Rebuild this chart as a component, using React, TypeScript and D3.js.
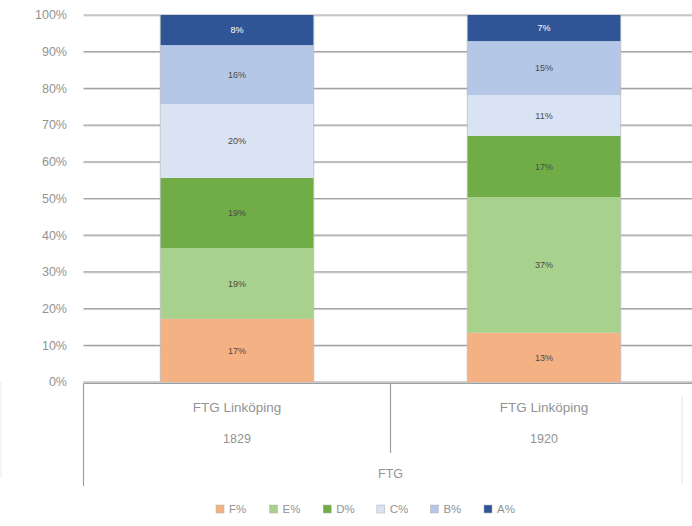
import React from "react";
import * as d3 from "d3";

const series = ["F%", "E%", "D%", "C%", "B%", "A%"];
const categories = ["1829", "1920"];
const categoryName = "FTG Linköping";
const groupName = "FTG";
const values1829 = [17.2, 19.3, 19.1, 20.1, 16.1, 8.2];
const values1920 = [13.4, 37.0, 16.7, 11.1, 14.7, 7.1];
const colors = ["#F4B183", "#A9D18E", "#70AD47", "#DAE3F3", "#B4C7E7", "#2F5597"];
const yTicks = [0, 0.1, 0.2, 0.3, 0.4, 0.5, 0.6, 0.7, 0.8, 0.9, 1];

const W = 692;
const H = 526;

export default function App() {
  const rows = categories.map((c, i) => {
    const vals = i === 0 ? values1829 : values1920;
    const r: any = { cat: c };
    series.forEach((s, j) => (r[s] = vals[j]));
    return r;
  });
  const stack = d3.stack<any>().keys(series).offset(d3.stackOffsetExpand);
  const layers = stack(rows);

  const plotL = 83.5;
  const plotR = 697.5;
  const y = d3.scaleLinear().domain([0, 1]).range([382, 15]);
  const x = d3
    .scaleBand<string>()
    .domain(categories)
    .range([plotL, plotR])
    .paddingInner(0.5)
    .paddingOuter(0.25);
  const step = x.step();
  const fmt = d3.format(".0%");
  const font = "'Liberation Sans', Arial, sans-serif";
  const axisText = "#939393";
  const boxStroke = "#a0a0a0";
  const y0 = y(0);
  const midDivider = plotL + step;

  const legendStart = 216;
  const legendStep = 53.6;
  const legendY = 509;

  return (
    <svg
      width={W}
      height={H}
      style={{ position: "absolute", left: 0, top: 0, display: "block", background: "#fff" }}
      fontFamily={font}
    >
      {/* gridlines */}
      {yTicks.map((t) => (
        <g key={t}>
          <line x1={plotL} x2={W} y1={y(t) + 1} y2={y(t) + 1} stroke="#d6d6d6" strokeWidth={1} />
          <line x1={plotL} x2={W} y1={y(t)} y2={y(t)} stroke="#a3a3a3" strokeWidth={1.2} />
          <text
            x={67}
            y={y(t)}
            dy="0.35em"
            textAnchor="end"
            fontSize={12.5}
            fill={axisText}
          >
            {fmt(t)}
          </text>
        </g>
      ))}

      {/* bars */}
      {layers.map((layer, li) =>
        layer.map((d, di) => {
          const cat = categories[di];
          const x0 = x(cat)!;
          const top = y(d[1]);
          const bot = y(d[0]);
          const raw = di === 0 ? values1829[li] : values1920[li];
          return (
            <g key={`${li}-${di}`}>
              <rect
                x={x0}
                y={top}
                width={x.bandwidth()}
                height={bot - top}
                fill={colors[li]}
              />
              <text
                x={x0 + x.bandwidth() / 2}
                y={(top + bot) / 2}
                dy="0.35em"
                textAnchor="middle"
                fontSize={9}
                fill={li === 5 ? "#ffffff" : "#4a4a4a"}
              >
                {Math.round(raw) + "%"}
              </text>
            </g>
          );
        })
      )}
      {categories.map((c) => (
        <g key={"edge" + c}>
          <line x1={x(c)!} x2={x(c)!} y1={15} y2={y0} stroke="#bdbdbd" strokeWidth={0.8} />
          <line
            x1={x(c)! + x.bandwidth()}
            x2={x(c)! + x.bandwidth()}
            y1={15}
            y2={y0}
            stroke="#bdbdbd"
            strokeWidth={0.8}
          />
        </g>
      ))}

      {/* category axis box */}
      <line x1={plotL} x2={W} y1={y0 + 1.5} y2={y0 + 1.5} stroke={boxStroke} strokeWidth={1.2} />
      <line x1={plotL} x2={plotL} y1={y0 + 1.5} y2={486} stroke={boxStroke} strokeWidth={1.2} />
      <line x1={midDivider} x2={midDivider} y1={y0 + 1.5} y2={453} stroke={boxStroke} strokeWidth={1.2} />
      <line x1={682} x2={682} y1={397} y2={483} stroke="#e4e4e4" strokeWidth={1} />
      <line x1={1} x2={1} y1={382} y2={478} stroke="#ececec" strokeWidth={1} />

      {categories.map((c) => {
        const cx = x(c)! + x.bandwidth() / 2;
        return (
          <g key={"lab" + c}>
            <text x={cx} y={407} dy="0.35em" textAnchor="middle" fontSize={13.5} fill={axisText}>
              {categoryName}
            </text>
            <text x={cx} y={439} dy="0.35em" textAnchor="middle" fontSize={12.5} fill={axisText}>
              {c}
            </text>
          </g>
        );
      })}
      <text x={midDivider} y={474} dy="0.35em" textAnchor="middle" fontSize={12.5} fill={axisText}>
        {groupName}
      </text>

      {/* legend */}
      {series.map((s, i) => {
        const lx = legendStart + i * legendStep;
        return (
          <g key={"lg" + s}>
            <rect
              x={lx}
              y={legendY - 4}
              width={8}
              height={8}
              fill={colors[i]}
              stroke="#b0b0b0"
              strokeWidth={0.5}
            />
            <text x={lx + 13} y={legendY} dy="0.35em" fontSize={11.5} fill={axisText}>
              {s}
            </text>
          </g>
        );
      })}
    </svg>
  );
}
